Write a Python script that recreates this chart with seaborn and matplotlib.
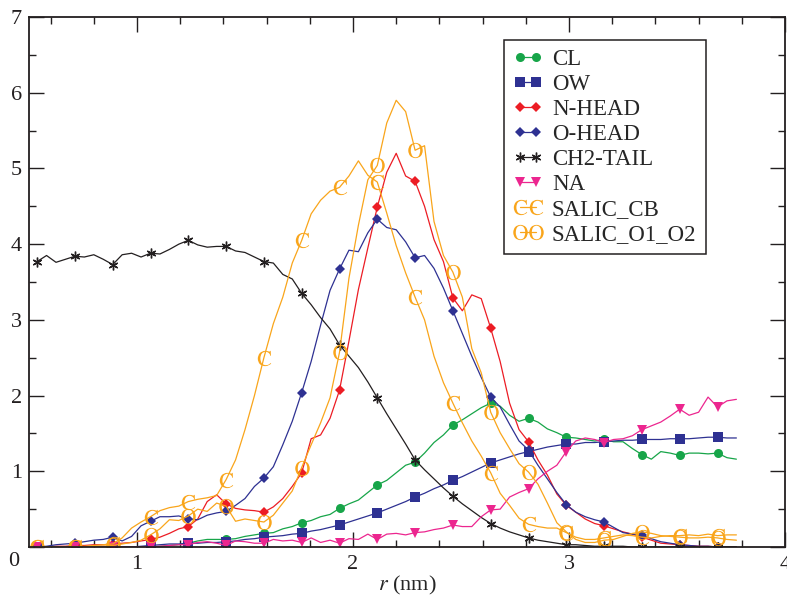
import numpy as np
import matplotlib
matplotlib.use('Agg')
import matplotlib.pyplot as plt
from matplotlib.lines import Line2D
from matplotlib.ticker import MultipleLocator
import seaborn as sns

# --- data: radial distribution, r sampled every 0.04375 nm ---
r = np.round(0.5375 + 0.04375 * np.arange(75), 5)

cl = [0.0, 0.0, 0.0, 0.0, 0.0, 0.0, 0.0, 0.0, 0.0, 0.0,
      0.0, 0.0, 0.0, 0.01, 0.02, 0.03, 0.05, 0.08, 0.10, 0.10,
      0.10, 0.11, 0.14, 0.16, 0.18, 0.19, 0.24, 0.27, 0.32, 0.35,
      0.40, 0.43, 0.51, 0.57, 0.62, 0.72, 0.82, 0.88, 0.98, 1.08,
      1.12, 1.24, 1.38, 1.48, 1.61, 1.68, 1.76, 1.84, 1.90, 1.86,
      1.74, 1.66, 1.70, 1.65, 1.56, 1.51, 1.45, 1.44, 1.42, 1.40,
      1.42, 1.39, 1.39, 1.30, 1.22, 1.16, 1.26, 1.24, 1.21, 1.24,
      1.24, 1.23, 1.24, 1.18, 1.16]

ow = [0.0, 0.0, 0.0, 0.0, 0.0, 0.0, 0.0, 0.0, 0.0, 0.0,
      0.0, 0.01, 0.02, 0.03, 0.04, 0.04, 0.05, 0.05, 0.06, 0.06,
      0.07, 0.08, 0.10, 0.11, 0.13, 0.14, 0.15, 0.17, 0.18, 0.21,
      0.23, 0.26, 0.29, 0.33, 0.37, 0.41, 0.45, 0.50, 0.55, 0.60,
      0.66, 0.71, 0.77, 0.82, 0.88, 0.93, 0.99, 1.05, 1.11, 1.15,
      1.19, 1.23, 1.26, 1.29, 1.32, 1.34, 1.36, 1.36, 1.38, 1.38,
      1.39, 1.40, 1.41, 1.41, 1.42, 1.42, 1.42, 1.43, 1.43, 1.43,
      1.44, 1.45, 1.45, 1.44, 1.44]

n_head = [0.0, 0.0, 0.01, 0.01, 0.02, 0.02, 0.03, 0.03, 0.04, 0.05,
          0.06, 0.08, 0.10, 0.13, 0.18, 0.24, 0.27, 0.37, 0.60, 0.69,
          0.57, 0.51, 0.49, 0.48, 0.46, 0.53, 0.64, 0.80, 0.98, 1.43,
          1.48, 1.70, 2.07, 2.72, 3.40, 3.95, 4.49, 4.95, 5.20, 4.90,
          4.83, 4.50, 4.06, 3.77, 3.29, 3.12, 3.33, 3.28, 2.89, 2.45,
          1.90, 1.55, 1.39, 1.15, 0.95, 0.70, 0.55, 0.46, 0.37, 0.31,
          0.28, 0.24, 0.20, 0.17, 0.13, 0.09, 0.05, 0.04, 0.03, 0.02,
          0.01, 0.01, 0.0, 0.0, 0.0]

o_head = [0.0, 0.01, 0.03, 0.04, 0.05, 0.07, 0.09, 0.10, 0.13, 0.08,
          0.14, 0.28, 0.34, 0.40, 0.40, 0.41, 0.37, 0.36, 0.42, 0.45,
          0.47, 0.55, 0.64, 0.80, 0.91, 1.06, 1.35, 1.66, 2.04, 2.45,
          2.93, 3.39, 3.67, 3.92, 3.90, 4.15, 4.33, 4.22, 4.19, 4.03,
          3.82, 3.85, 3.68, 3.42, 3.12, 2.82, 2.52, 2.24, 1.98, 1.85,
          1.62, 1.40, 1.28, 1.08, 0.90, 0.72, 0.56, 0.46, 0.40, 0.36,
          0.33, 0.26, 0.19, 0.17, 0.16, 0.11, 0.07, 0.05, 0.03, 0.02,
          0.01, 0.01, 0.0, 0.0, 0.0]

ch2_tail = [3.77, 3.85, 3.76, 3.80, 3.84, 3.83, 3.86, 3.80, 3.73, 3.86,
            3.88, 3.83, 3.88, 3.87, 3.93, 4.00, 4.05, 3.99, 3.96, 3.97,
            3.97, 3.91, 3.89, 3.83, 3.77, 3.75, 3.60, 3.54, 3.35, 3.20,
            3.03, 2.88, 2.67, 2.52, 2.37, 2.18, 1.97, 1.76, 1.56, 1.36,
            1.15, 1.02, 0.90, 0.78, 0.67, 0.57, 0.48, 0.39, 0.31, 0.25,
            0.20, 0.16, 0.12, 0.09, 0.07, 0.05, 0.03, 0.03, 0.02, 0.01,
            0.01, 0.01, 0.01, 0.0, 0.0, 0.0, 0.0, 0.0, 0.0, 0.0,
            0.0, 0.0, 0.0, 0.0, 0.0]

na = [0.0, 0.0, 0.0, 0.0, 0.0, 0.0, 0.0, 0.0, 0.0, 0.0,
      0.0, 0.0, 0.0, 0.01, 0.02, 0.03, 0.03, 0.06, 0.07, 0.05,
      0.02, 0.08, 0.07, 0.05, 0.05, 0.10, 0.08, 0.09, 0.06, 0.12,
      0.06, 0.09, 0.05, 0.11, 0.10, 0.17, 0.10, 0.17, 0.18, 0.16,
      0.19, 0.20, 0.23, 0.25, 0.29, 0.27, 0.27, 0.40, 0.49, 0.50,
      0.66, 0.72, 0.77, 0.90, 1.00, 1.08, 1.26, 1.40, 1.44, 1.42,
      1.38, 1.42, 1.43, 1.47, 1.55, 1.60, 1.65, 1.73, 1.82, 1.74,
      1.78, 1.98, 1.85, 1.93, 1.95]

salic_cb = [0.0, 0.0, 0.0, 0.0, 0.0, 0.01, 0.02, 0.03, 0.04, 0.12,
            0.25, 0.33, 0.40, 0.48, 0.52, 0.54, 0.60, 0.63, 0.65, 0.68,
            0.89, 1.15, 1.55, 2.00, 2.50, 2.95, 3.30, 3.75, 4.05, 4.40,
            4.58, 4.70, 4.75, 4.90, 5.10, 4.91, 4.82, 4.41, 3.98, 3.62,
            3.30, 3.00, 2.52, 2.17, 1.90, 1.64, 1.40, 1.20, 0.98, 0.71,
            0.55, 0.38, 0.30, 0.27, 0.25, 0.25, 0.19, 0.13, 0.10, 0.10,
            0.12, 0.14, 0.16, 0.15, 0.13, 0.12, 0.14, 0.15, 0.15, 0.16,
            0.15, 0.17, 0.15, 0.16, 0.16]

salic_o1_o2 = [0.0, 0.0, 0.0, 0.0, 0.0, 0.0, 0.01, 0.01, 0.02, 0.04,
               0.06, 0.09, 0.16, 0.24, 0.36, 0.35, 0.41, 0.50, 0.47, 0.58,
               0.54, 0.34, 0.37, 0.35, 0.33, 0.42, 0.58, 0.74, 1.05, 1.35,
               1.64, 1.97, 2.57, 3.55, 4.25, 4.85, 5.04, 5.60, 5.90, 5.75,
               5.24, 5.30, 4.30, 3.85, 3.63, 3.30, 2.62, 2.30, 1.78, 1.51,
               1.30, 1.10, 0.99, 0.83, 0.58, 0.32, 0.20, 0.10, 0.06, 0.06,
               0.09, 0.10, 0.14, 0.18, 0.20, 0.18, 0.15, 0.14, 0.13, 0.12,
               0.12, 0.13, 0.12, 0.10, 0.09]

labels = ['CL', 'OW', 'N-HEAD', 'O-HEAD', 'CH2-TAIL', 'NA', 'SALIC_CB', 'SALIC_O1_O2']
series = [cl, ow, n_head, o_head, ch2_tail, na, salic_cb, salic_o1_o2]

orange = '#f9a51b'
styles = [
    dict(color='#17a549', marker='o', ms=6.5, mew=0),
    dict(color='#2e3192', marker='s', ms=6.5, mew=0),
    dict(color='#ec1c24', marker='D', ms=5.5, mew=0),
    dict(color='#2e3192', marker='D', ms=5.5, mew=0),
    dict(color='#231f20', marker=(6, 2, 0), ms=7, mew=1.0),
    dict(color='#ec268f', marker='v', ms=7.5, mew=0),
    dict(color=orange, marker=r'$\mathrm{C}$', ms=11, mew=0),
    dict(color=orange, marker=r'$\mathrm{O}$', ms=11, mew=0),
]

# --- style ---
sns.set_theme(style='ticks')
plt.rcParams['font.family'] = ['Liberation Serif', 'DejaVu Serif']
plt.rcParams['mathtext.fontset'] = 'stix'

fig = plt.figure(figsize=(7.87, 5.97), dpi=100)
ax = fig.add_axes([29 / 787, 50 / 597, 756 / 787, 530 / 597])

for vals, st, lab in zip(series, styles, labels):
    sns.lineplot(x=r, y=vals, ax=ax, color=st['color'], lw=0.9,
                 marker=st['marker'], markersize=st['ms'], markevery=4,
                 markeredgewidth=st['mew'], markeredgecolor=st['color'],
                 markerfacecolor=st['color'], estimator=None, sort=False,
                 legend=False)

ax.set_xlim(0.5, 4)
ax.set_ylim(0, 7)
ax.set_xticks([1, 2, 3, 4])
ax.set_xticklabels(['1', '2', '3', '4'])
ax.set_yticks(range(8))
ax.set_yticklabels([''] + [str(v) for v in range(1, 8)])
ax.xaxis.set_minor_locator(MultipleLocator(0.2))
ax.yaxis.set_minor_locator(MultipleLocator(0.5))
ax.tick_params(which='both', direction='in', top=True, right=True,
               labelsize=16, width=1.0, colors='#231f20')
ax.tick_params(which='major', length=11)
ax.tick_params(which='minor', length=5)
ax.tick_params(axis='y', pad=5)
ax.tick_params(axis='x', pad=6)
for sp in ax.spines.values():
    sp.set_visible(True)
    sp.set_linewidth(1.3)
    sp.set_color('#231f20')

ax.set_xlabel(r'$r$ (nm)', fontsize=16, labelpad=0)
ax.set_ylabel('')
fig.text(14 / 787, 1 - 562 / 597, '0', fontsize=16, ha='center', va='center',
         color='#231f20')

handles = [Line2D([], [], color=st['color'], lw=0.9, marker=st['marker'],
                  markersize=st['ms'], markeredgewidth=st['mew'],
                  markeredgecolor=st['color'], markerfacecolor=st['color'])
           for st in styles]
leg = ax.legend(handles, labels, loc='upper left', bbox_to_anchor=(0.628, 0.957),
                borderaxespad=0, numpoints=2, handlelength=1.3, handletextpad=0.4,
                labelspacing=0.17, borderpad=0.4, fontsize=16.5, fancybox=False,
                framealpha=1, edgecolor='#231f20')
leg.get_frame().set_linewidth(1.1)

fig.savefig('out.png', dpi=100)
